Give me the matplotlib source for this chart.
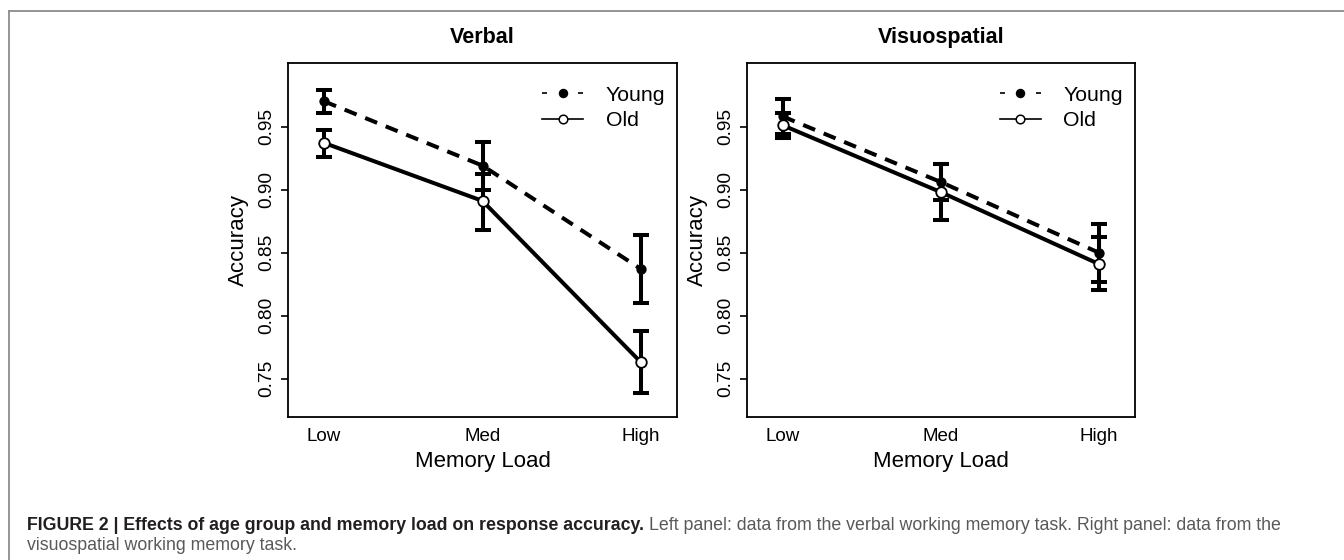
import numpy as np
import matplotlib
matplotlib.use('Agg')
import matplotlib.pyplot as plt
from matplotlib.lines import Line2D

plt.rcParams['font.family'] = ['Liberation Sans', 'DejaVu Sans']

# --- Data ---
loads = ['Low', 'Med', 'High']

verbal_young = [0.970, 0.919, 0.837]
verbal_young_lo = [0.961, 0.900, 0.810]
verbal_young_hi = [0.979, 0.938, 0.864]
verbal_old = [0.937, 0.891, 0.763]
verbal_old_lo = [0.926, 0.868, 0.739]
verbal_old_hi = [0.947, 0.912, 0.788]

visuo_young = [0.958, 0.906, 0.850]
visuo_young_lo = [0.944, 0.892, 0.827]
visuo_young_hi = [0.972, 0.920, 0.873]
visuo_old = [0.951, 0.898, 0.841]
visuo_old_lo = [0.941, 0.876, 0.820]
visuo_old_hi = [0.961, 0.920, 0.862]

yticks = [0.75, 0.80, 0.85, 0.90, 0.95]

caption_bold = 'FIGURE 2 | Effects of age group and memory load on response accuracy.'
caption_rest = ('Left panel: data from the verbal working memory task. '
                'Right panel: data from the')
caption_line2 = 'visuospatial working memory task.'

LW = 2.9


def plot_panel(ax, title, young, ylo, yhi, old, olo, ohi):
    x = np.arange(1, len(loads) + 1)
    young = np.array(young)
    old = np.array(old)
    ax.errorbar(x, young, yerr=[young - np.array(ylo), np.array(yhi) - young],
                fmt='none', ecolor='black', elinewidth=LW, capsize=6, capthick=LW, zorder=2)
    ax.errorbar(x, old, yerr=[old - np.array(olo), np.array(ohi) - old],
                fmt='none', ecolor='black', elinewidth=LW, capsize=6, capthick=LW, zorder=2)
    ax.plot(x, young, color='black', lw=LW, dashes=(3.2, 2.3), zorder=3)
    ax.plot(x, old, color='black', lw=LW, zorder=3)
    ax.plot(x, young, 'o', color='black', ms=6.4, zorder=4)
    ax.plot(x, old, 'o', mfc='white', mec='black', mew=1.3, ms=7.6, zorder=4)

    ax.set_xlim(0.772, 3.228)
    ax.set_ylim(0.7196, 1.0004)
    ax.set_xticks(x)
    ax.set_xticklabels(loads)
    ax.set_yticks(yticks)
    ax.set_yticklabels(['%.2f' % v for v in yticks])
    plt.setp(ax.get_yticklabels(), rotation=90, va='center')
    ax.tick_params(axis='x', length=0, pad=8, labelsize=13.5)
    ax.tick_params(axis='y', length=5, width=1.2, pad=4, labelsize=13.8)
    for s in ax.spines.values():
        s.set_linewidth(1.3)

    ax.set_xlabel('Memory Load', fontsize=16, va='center')
    ax.xaxis.set_label_coords(0.5, -0.127)
    ax.set_ylabel('Accuracy', fontsize=16, va='center')
    ax.yaxis.set_label_coords(-0.128, 0.5)
    ax.text(0.5, 1.073, title, transform=ax.transAxes, ha='center', va='center',
            fontsize=15.5, fontweight='bold')

    h_young = Line2D([], [], color='black', lw=1.2, dashes=(3.0, 7.8),
                     marker='o', ms=5.8, mfc='black', mec='black')
    h_old = Line2D([], [], color='black', lw=1.2, marker='o', ms=6.2,
                   mfc='white', mec='black', mew=1.1)
    ax.legend([h_young, h_old], ['Young', 'Old'], loc='upper right',
              bbox_to_anchor=(0.997, 0.966), frameon=False, fontsize=15.3,
              borderpad=0, handlelength=1.95, handletextpad=1.05, labelspacing=0.3)


fig = plt.figure(figsize=(13.44, 5.6), dpi=100)

ax1 = fig.add_axes([288 / 1344, 1 - 417 / 560, 389 / 1344, 354 / 560])
plot_panel(ax1, 'Verbal', verbal_young, verbal_young_lo, verbal_young_hi,
           verbal_old, verbal_old_lo, verbal_old_hi)

ax2 = fig.add_axes([746.7 / 1344, 1 - 417 / 560, 388 / 1344, 354 / 560])
plot_panel(ax2, 'Visuospatial', visuo_young, visuo_young_lo, visuo_young_hi,
           visuo_old, visuo_old_lo, visuo_old_hi)

# page frame lines
fig.add_artist(Line2D([9 / 1344, 1], [1 - 11 / 560, 1 - 11 / 560], color='#8c8c8c', lw=1.3))
fig.add_artist(Line2D([9 / 1344, 9 / 1344], [0, 1 - 11 / 560], color='#8c8c8c', lw=1.3))

# caption
cap_size = 12.8
t1 = fig.text(27 / 1344, 1 - 530 / 560, caption_bold, fontsize=cap_size,
              fontweight='bold', color='#231f20', va='baseline')
fig.canvas.draw()
bb = t1.get_window_extent()
fig.text((bb.x1 + 5) / 1344, 1 - 530 / 560, caption_rest, fontsize=cap_size,
         color='#58595b', va='baseline')
fig.text(27 / 1344, 1 - 550 / 560, caption_line2, fontsize=cap_size,
         color='#58595b', va='baseline')

fig.savefig('out.png', dpi=100)
